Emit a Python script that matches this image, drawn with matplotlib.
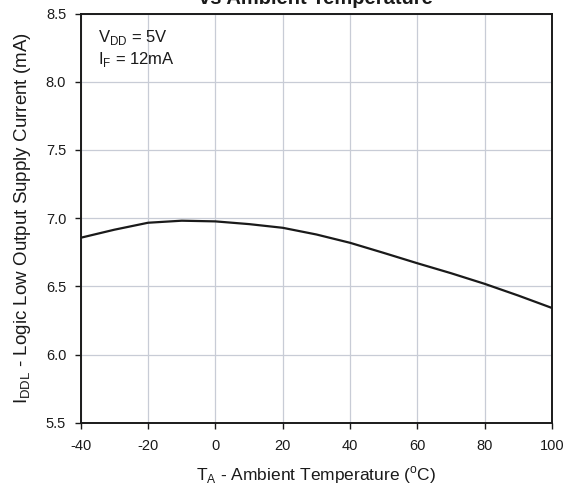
import matplotlib
matplotlib.use("Agg")
import matplotlib.pyplot as plt
import numpy as np

temps = [-40, -30, -20, -10, 0, 10, 20, 30, 40, 50, 60, 70, 80, 90, 100]
current = [6.856, 6.915, 6.966, 6.981, 6.976, 6.956, 6.929, 6.880, 6.819, 6.745, 6.669, 6.596, 6.518, 6.432, 6.341]
xticks = [-40, -20, 0, 20, 40, 60, 80, 100]
yticks = [5.5, 6.0, 6.5, 7.0, 7.5, 8.0, 8.5]

plt.rcParams['font.family'] = ['Liberation Sans', 'DejaVu Sans']

fig = plt.figure(figsize=(5.68, 4.88), dpi=100)
ax = fig.add_axes([0.1421, 0.1338, 0.8298, 0.8385])

ax.plot(temps, current, color='#1a1a1a', lw=1.6)
ax.set_xlim(-40, 100)
ax.set_ylim(5.5, 8.5)
ax.set_xticks(xticks)
ax.set_xticklabels([str(t) for t in xticks])
ax.set_yticks(yticks)
ax.set_yticklabels([f"{v:.1f}" for v in yticks])
ax.grid(True, color='#c8ccd6', lw=0.9)
ax.set_axisbelow(True)
for s in ax.spines.values():
    s.set_linewidth(1.4)
    s.set_color('#1a1a1a')
ax.tick_params(direction='out', length=4, width=1, labelsize=10.5, colors='#1a1a1a')
ax.tick_params(axis='x', pad=8)
ax.tick_params(axis='y', pad=6.5)

ax.set_xlabel(r'T$_{\mathregular{A}}$ - Ambient Temperature ($^{\mathregular{o}}$C)', fontsize=12.5, labelpad=8, color='#1a1a1a')
ax.set_ylabel(r'I$_{\mathregular{DDL}}$ - Logic Low Output Supply Current (mA)', fontsize=13.5, labelpad=9, color='#1a1a1a')

ax.text(0.037, 0.930, r'V$_{\mathregular{DD}}$ = 5V', transform=ax.transAxes, fontsize=12, va='baseline', color='#1a1a1a')
ax.text(0.037, 0.877, r'I$_{\mathregular{F}}$ = 12mA', transform=ax.transAxes, fontsize=12, va='baseline', color='#1a1a1a')

fig.text(0.557, 1.0 - 4.0/488, 'Logic Low Output Supply Current\nvs Ambient Temperature', ha='center', va='baseline',
         fontsize=14.5, fontweight='bold', color='#1a1a1a', linespacing=1.2)

fig.savefig('out.png', dpi=100)
